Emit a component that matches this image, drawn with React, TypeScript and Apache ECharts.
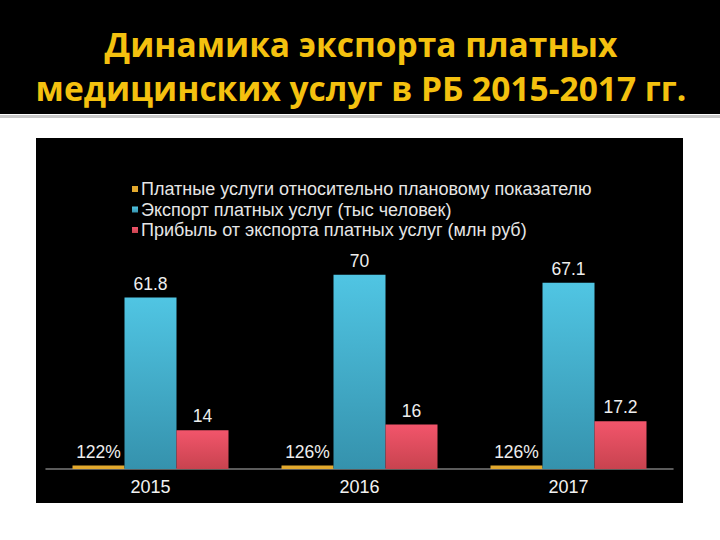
import React, { useEffect, useRef } from "react";
import * as echarts from "echarts";

const categories = ["2015", "2016", "2017"];
const planPercent = [1.22, 1.26, 1.26];
const exportThousand = [61.8, 70, 67.1];
const profitMillion = [14, 16, 17.2];
const seriesNames = [
  "Платные услуги относительно плановому показателю",
  "Экспорт платных услуг (тыс человек)",
  "Прибыль от экспорта платных услуг (млн руб)",
];
const titleLines = ["Динамика экспорта платных", "медицинских услуг в РБ 2015-2017 гг."];

export default function App() {
  const ref = useRef<HTMLDivElement>(null);
  useEffect(() => {
    if (!ref.current) return;
    const chart = echarts.init(ref.current, null, { renderer: "svg" });
    const labelStyle = {
      show: true,
      position: "top" as const,
      color: "#eeeeee",
      fontFamily: "Liberation Sans",
      fontSize: 17.5,
      distance: 5,
    };
    const titleStyle = {
      fill: "#F4C10F",
      fontFamily: "Open Sans",
      fontWeight: "bold",
      fontSize: 33.5,
      textAlign: "center",
      textVerticalAlign: "middle",
    };
    chart.setOption({
      animation: false,
      backgroundColor: "#ffffff",
      graphic: [
        { type: "rect", shape: { x: 0, y: 0, width: 720, height: 114 }, style: { fill: "#000000" }, z: -10 },
        { type: "rect", shape: { x: 0, y: 115, width: 720, height: 3 }, style: { fill: "#c8c8c8" }, z: -10 },
        { type: "rect", shape: { x: 36, y: 138, width: 647, height: 365 }, style: { fill: "#000000" }, z: -10 },
        { type: "text", x: 361, y: 44, style: { ...titleStyle, text: titleLines[0] }, z: 10 },
        { type: "text", x: 361, y: 88, style: { ...titleStyle, text: titleLines[1] }, z: 10 },
      ],
      legend: {
        orient: "vertical",
        left: 127,
        top: 175,
        itemWidth: 6,
        itemHeight: 6,
        itemGap: 2.5,
        icon: "rect",
        textStyle: { color: "#e6e6e6", fontFamily: "Liberation Sans", fontSize: 18, padding: [0, 0, 0, -2] },
        data: seriesNames,
      },
      grid: { left: 46, right: 47, top: 247, bottom: 71, containLabel: false },
      xAxis: {
        type: "category",
        data: categories,
        axisLine: { lineStyle: { color: "#7a7a7a", width: 1.5 } },
        axisTick: { show: false },
        axisLabel: { color: "#f2f2f2", fontFamily: "Liberation Sans", fontSize: 18, margin: 9 },
      },
      yAxis: { type: "value", min: 0, max: 80, show: false, splitLine: { show: false } },
      series: [
        {
          name: seriesNames[0],
          type: "bar",
          data: planPercent,
          barWidth: 52,
          barGap: "0%",
          itemStyle: { color: "#E3A92E" },
          label: { ...labelStyle, formatter: (p: any) => Math.round(p.value * 100) + "%" },
        },
        {
          name: seriesNames[1],
          type: "bar",
          data: exportThousand,
          barWidth: 52,
          barGap: "0%",
          itemStyle: {
            color: new echarts.graphic.LinearGradient(0, 0, 0, 1, [
              { offset: 0, color: "#50C5E3" },
              { offset: 1, color: "#3592AD" },
            ]),
          },
          label: labelStyle,
        },
        {
          name: seriesNames[2],
          type: "bar",
          data: profitMillion,
          barWidth: 52,
          barGap: "0%",
          itemStyle: {
            color: new echarts.graphic.LinearGradient(0, 0, 0, 1, [
              { offset: 0, color: "#F2556B" },
              { offset: 1, color: "#C8434F" },
            ]),
          },
          label: labelStyle,
        },
      ],
    });
    return () => chart.dispose();
  }, []);
  return (
    <div
      ref={ref}
      style={{ position: "fixed", left: 0, top: 0, width: 720, height: 540 }}
    />
  );
}
